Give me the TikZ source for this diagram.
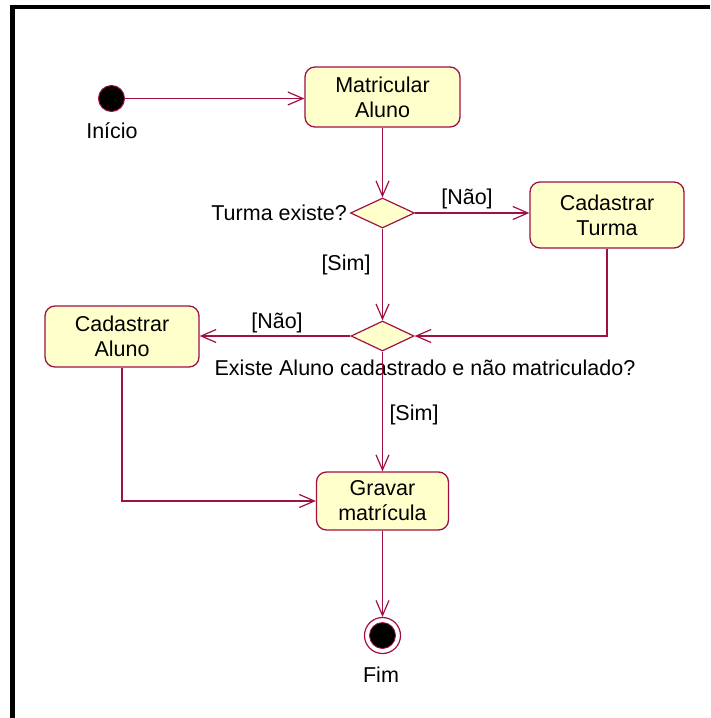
\documentclass[tikz,border=0pt]{standalone}
\usepackage{fontspec}
\setmainfont{Liberation Sans}
\usetikzlibrary{arrows.meta,shapes.geometric}
\definecolor{umlline}{RGB}{160,16,70}
\definecolor{umlfill}{RGB}{255,255,204}
\tikzset{
  txt/.style={font=\fontsize{21.5}{25}\selectfont, inner sep=0pt},
  activity/.style={txt, rectangle, rounded corners=10pt, draw=umlline, fill=umlfill,
    line width=1.3pt, align=center},
  decision/.style={diamond, draw=umlline, fill=umlfill, line width=1.2pt, inner sep=0pt},
  flow/.style={draw=umlline, line width=1.2pt,
    -{Straight Barb[length=15pt,width=13pt,line width=1.2pt]}},
}
\begin{document}
\begin{tikzpicture}[x=1pt,y=-1pt]
\useasboundingbox (0,0) rectangle (710,718);
% frame edges
\fill (10,5) rectangle (710,9);
\fill (10,5) rectangle (15,718);

% states
\node[circle, fill=black, draw=umlline, line width=1pt, minimum size=26pt, inner sep=0pt] (start) at (111.5,98.5) {};
\node[txt] (startlbl) at (112,131) {Início};

\node[activity, minimum width=155pt, minimum height=60pt] (matric) at (382.5,97) {Matricular\\Aluno};
\node[decision, minimum width=64pt, minimum height=30pt] (d1) at (382.5,213) {};
\node[activity, minimum width=154pt, minimum height=66pt] (turma) at (607,215) {Cadastrar\\Turma};
\node[decision, minimum width=63pt, minimum height=30pt] (d2) at (382.5,336) {};
\node[activity, minimum width=154pt, minimum height=61pt] (aluno) at (122,336.5) {Cadastrar\\Aluno};
\node[activity, minimum width=132pt, minimum height=58pt] (gravar) at (382.5,501) {Gravar\\matrícula};

\node[circle, draw=umlline, fill=white, line width=1.2pt, minimum size=36pt, inner sep=0pt] (final) at (382.5,635.5) {};
\node[circle, fill=black, draw=umlline, line width=0.8pt, minimum size=26pt, inner sep=0pt] (finaldot) at (final.center) {};
\node[txt] (finallbl) at (381,675) {Fim};

% labels
\node[txt, anchor=east] (q1) at (347,213) {Turma existe?};
\node[txt] (nao1) at (467,199) {[Não]};
\node[txt] (sim1) at (346,265) {[Sim]};
\node[txt] (nao2) at (277,323) {[Não]};
\node[txt] (q2) at (425,368) {Existe Aluno cadastrado e não matriculado?};
\node[txt] (sim2) at (414,415) {[Sim]};

% transitions
\draw[flow] (start.east) -- (start.east -| matric.west);
\draw[flow] (matric.south) -- (d1.north);
\draw[flow] (d1.east) -- (d1.east -| turma.west);
\draw[flow] (d1.south) -- (d2.north);
\draw[flow] (turma.south) |- (d2.east);
\draw[flow] (d2.west) -- (d2.west -| aluno.east);
\draw[flow] (d2.south) -- (gravar.north);
\draw[flow] (aluno.south) |- (gravar.west);
\draw[flow] (gravar.south) -- (final.north);
\end{tikzpicture}
\end{document}
